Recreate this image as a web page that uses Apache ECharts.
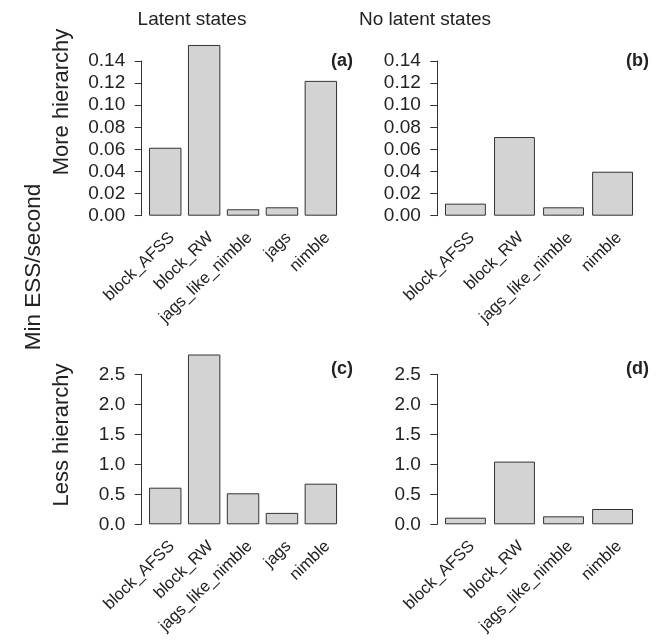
<!DOCTYPE html>
<html>
<head>
<meta charset="utf-8">
<script src="https://cdn.jsdelivr.net/npm/echarts@6/dist/echarts.min.js"></script>
<style>
  html, body { margin: 0; padding: 0; background: #fff; }
  #chart { width: 662px; height: 640px; }
</style>
</head>
<body>
<div id="chart"></div>
<script>
// Samplers compared in each panel
const samplersLatent = ['block_AFSS', 'block_RW', 'jags_like_nimble', 'jags', 'nimble'];
const samplersNoLatent = ['block_AFSS', 'block_RW', 'jags_like_nimble', 'nimble'];

// Min ESS/second, more hierarchy
const moreLatent = [0.0615, 0.1545, 0.0058, 0.0076, 0.122];
const moreNoLatent = [0.0109, 0.0712, 0.0076, 0.0398];

// Min ESS/second, less hierarchy
const lessLatent = [0.61, 2.83, 0.517, 0.19, 0.677];
const lessNoLatent = [0.11, 1.045, 0.133, 0.255];

// Axis settings per row
const moreAxis = { max: 0.14, interval: 0.02, digits: 2 };
const lessAxis = { max: 2.5, interval: 0.5, digits: 1 };

const FONT = '"Liberation Sans", Arial, Helvetica, sans-serif';
const INK = '#222';

const panels = [
  { cats: samplersLatent,   vals: moreLatent,   axis: moreAxis, left: 145.8, width: 194.5, top: 61,    height: 154.7, offset: 4.1 },
  { cats: samplersNoLatent, vals: moreNoLatent, axis: moreAxis, left: 440.9, width: 196.2, top: 61,    height: 154.7, offset: 3.6 },
  { cats: samplersLatent,   vals: lessLatent,   axis: lessAxis, left: 145.8, width: 194.5, top: 374.3, height: 150,   offset: 4.1 },
  { cats: samplersNoLatent, vals: lessNoLatent, axis: lessAxis, left: 440.9, width: 196.2, top: 374.3, height: 150,   offset: 3.6 }
];

const grid = panels.map(p => ({ left: p.left, top: p.top, width: p.width, height: p.height, containLabel: false }));

const xAxis = panels.map((p, i) => ({
  type: 'category',
  gridIndex: i,
  data: p.cats,
  boundaryGap: true,
  axisLine: { show: false },
  axisTick: { show: false },
  splitLine: { show: false },
  axisLabel: {
    rotate: 44,
    margin: 26,
    interval: 0,
    // slide each slanted label a little along its own baseline
    padding: [0, -9.3, 0, 0],
    fontFamily: FONT,
    fontSize: 16.5,
    color: INK
  }
}));

const yAxis = panels.map((p, i) => ({
  type: 'value',
  gridIndex: i,
  min: 0,
  max: p.axis.max,
  interval: p.axis.interval,
  offset: p.offset,
  axisLine: { show: true, lineStyle: { color: '#333', width: 1 } },
  axisTick: { show: true, length: 7, inside: false, lineStyle: { color: '#333', width: 1 } },
  splitLine: { show: false },
  axisLabel: {
    margin: 16.5,
    fontFamily: FONT,
    fontSize: 19,
    color: INK,
    formatter: v => v.toFixed(p.axis.digits)
  }
}));

const series = panels.map((p, i) => ({
  type: 'bar',
  xAxisIndex: i,
  yAxisIndex: i,
  data: p.vals,
  clip: false,
  barCategoryGap: '16.67%',
  itemStyle: { color: '#d3d3d3', borderColor: '#333', borderWidth: 1 },
  emphasis: { disabled: true }
}));

const txt = (x, y, text, opts) => Object.assign({
  type: 'text', x, y,
  style: Object.assign({
    text, fontFamily: FONT, fill: INK,
    align: 'center', verticalAlign: 'middle'
  }, opts && opts.style)
}, opts && opts.extra);

const graphic = [
  txt(192, 20, 'Latent states', { style: { fontSize: 19 } }),
  txt(425, 20, 'No latent states', { style: { fontSize: 19 } }),
  txt(34, 267, 'Min ESS/second', { style: { fontSize: 22.5 }, extra: { rotation: Math.PI / 2 } }),
  txt(62, 102, 'More hierarchy', { style: { fontSize: 22 }, extra: { rotation: Math.PI / 2 } }),
  txt(62, 435, 'Less hierarchy', { style: { fontSize: 22 }, extra: { rotation: Math.PI / 2 } }),
  txt(353, 61, '(a)', { style: { fontSize: 18, fontWeight: 'bold', align: 'right' } }),
  txt(649, 61, '(b)', { style: { fontSize: 18, fontWeight: 'bold', align: 'right' } }),
  txt(353, 369, '(c)', { style: { fontSize: 18, fontWeight: 'bold', align: 'right' } }),
  txt(649, 369, '(d)', { style: { fontSize: 18, fontWeight: 'bold', align: 'right' } })
];

const chart = echarts.init(document.getElementById('chart'), null, { renderer: 'canvas' });
chart.setOption({
  animation: false,
  backgroundColor: '#fff',
  grid, xAxis, yAxis, series, graphic
});
</script>
</body>
</html>
